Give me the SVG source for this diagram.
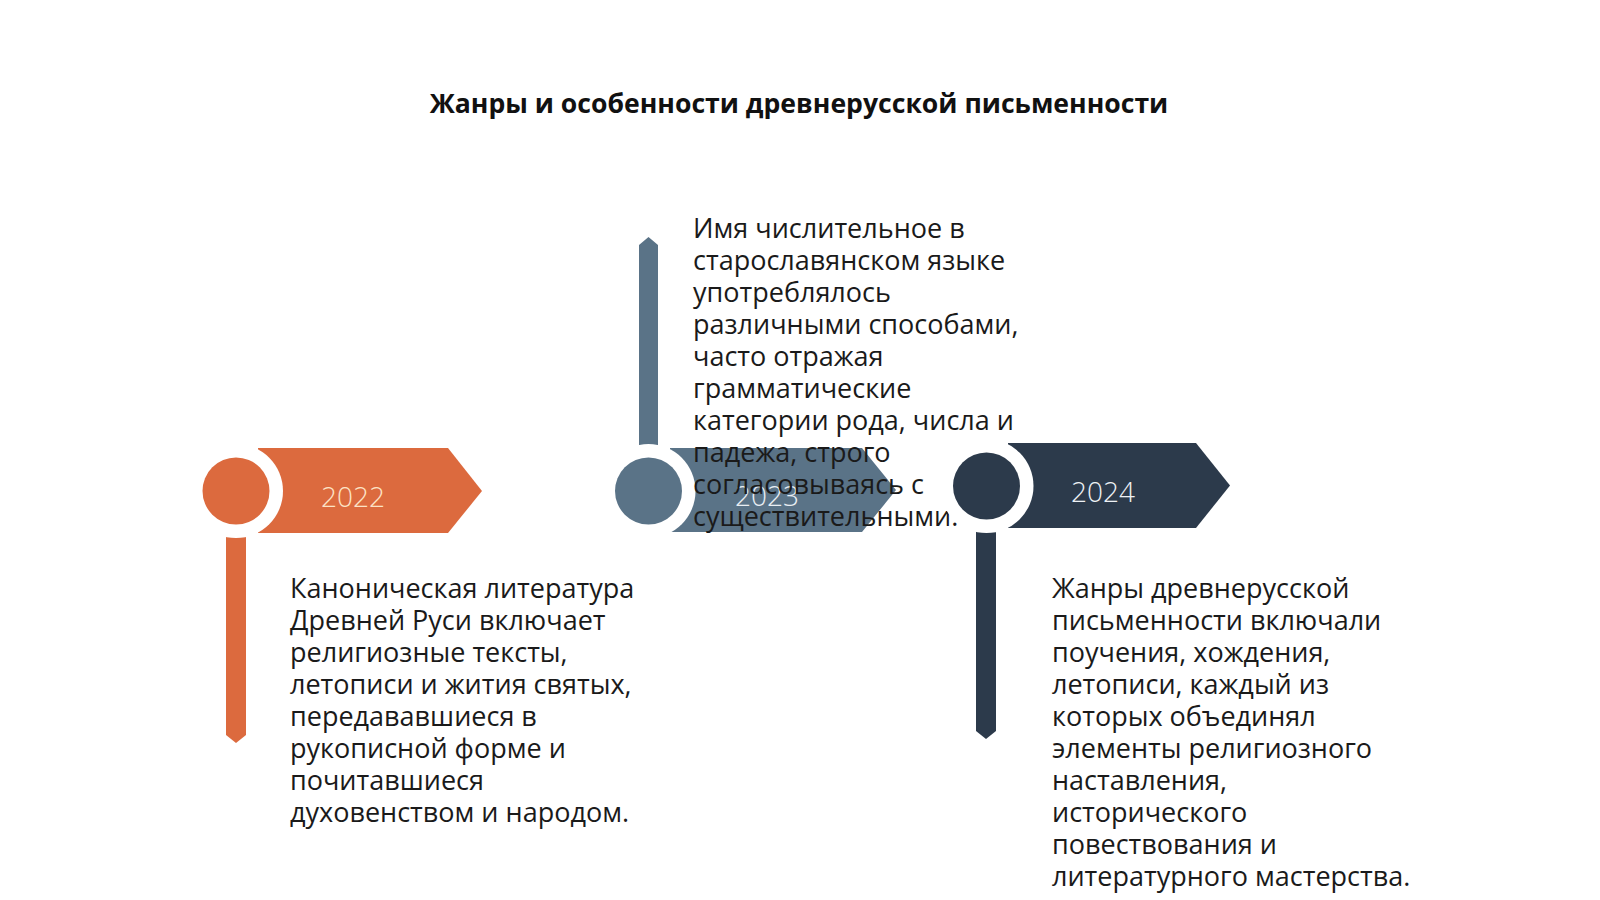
<svg xmlns="http://www.w3.org/2000/svg" width="1600" height="900" viewBox="0 0 1600 900">
<style>
.title{font-family:"Open Sans","Liberation Sans",sans-serif;font-weight:700;font-size:26.6px;fill:#111;}
.body{font-family:"Open Sans","Liberation Sans",sans-serif;font-size:27px;fill:#1a1a1a;}
.year{font-family:"Open Sans","Liberation Sans",sans-serif;font-weight:300;font-size:28px;text-anchor:middle;}
.ring{fill:#ffffff;}
.c1{fill:#dc6a3e;}
.c2{fill:#5a7387;}
.c3{fill:#2c3a4b;}
</style>
<rect width="1600" height="900" fill="#ffffff"/>
<text class="title" x="799" y="113" text-anchor="middle">Жанры и особенности древнерусской письменности</text>
<g id="connectors"></g>
<g id="node-2022">
<path class="c1" d="M258,448 H448 L482,491 L448,533 H258 Z"/>
<path class="c1" d="M226,500 H246 V735 L236,743 L226,735 Z"/>
<circle class="ring" cx="236" cy="491" r="47"/>
<circle class="c1" cx="236" cy="491" r="33.5"/>
<text class="year" x="353" y="507" fill="#fce3c6">2022</text>
<text class="body" x="290" y="598"><tspan x="290" dy="0">Каноническая литература</tspan><tspan x="290" dy="32">Древней Руси включает</tspan><tspan x="290" dy="32">религиозные тексты,</tspan><tspan x="290" dy="32">летописи и жития святых,</tspan><tspan x="290" dy="32">передававшиеся в</tspan><tspan x="290" dy="32">рукописной форме и</tspan><tspan x="290" dy="32">почитавшиеся</tspan><tspan x="290" dy="32">духовенством и народом.</tspan></text>
</g>
<g id="node-2023">
<path class="c2" d="M670,448 H862 L896,490 L862,532 H670 Z"/>
<path class="c2" d="M639,480 V245 L648.5,237 L658,245 V480 Z"/>
<circle class="ring" cx="648.5" cy="491" r="47"/>
<circle class="c2" cx="648.5" cy="491" r="33.5"/>
<text class="year" x="767" y="506" fill="#e9eef3">2023</text>
<text class="body" x="693" y="238"><tspan x="693" dy="0">Имя числительное в</tspan><tspan x="693" dy="32">старославянском языке</tspan><tspan x="693" dy="32">употреблялось</tspan><tspan x="693" dy="32">различными способами,</tspan><tspan x="693" dy="32">часто отражая</tspan><tspan x="693" dy="32">грамматические</tspan><tspan x="693" dy="32">категории рода, числа и</tspan><tspan x="693" dy="32">падежа, строго</tspan><tspan x="693" dy="32">согласовываясь с</tspan><tspan x="693" dy="32">существительными.</tspan></text>
</g>
<g id="node-2024">
<path class="c3" d="M1008,443 H1196 L1230,485.5 L1196,528 H1008 Z"/>
<path class="c3" d="M976,495 H996 V731 L986,739 L976,731 Z"/>
<circle class="ring" cx="986.5" cy="486" r="47"/>
<circle class="c3" cx="986.5" cy="486" r="33.5"/>
<text class="year" x="1103" y="502" fill="#eef1f5">2024</text>
<text class="body" x="1052" y="598"><tspan x="1052" dy="0">Жанры древнерусской</tspan><tspan x="1052" dy="32">письменности включали</tspan><tspan x="1052" dy="32">поучения, хождения,</tspan><tspan x="1052" dy="32">летописи, каждый из</tspan><tspan x="1052" dy="32">которых объединял</tspan><tspan x="1052" dy="32">элементы религиозного</tspan><tspan x="1052" dy="32">наставления,</tspan><tspan x="1052" dy="32">исторического</tspan><tspan x="1052" dy="32">повествования и</tspan><tspan x="1052" dy="32">литературного мастерства.</tspan></text>
</g>
</svg>
